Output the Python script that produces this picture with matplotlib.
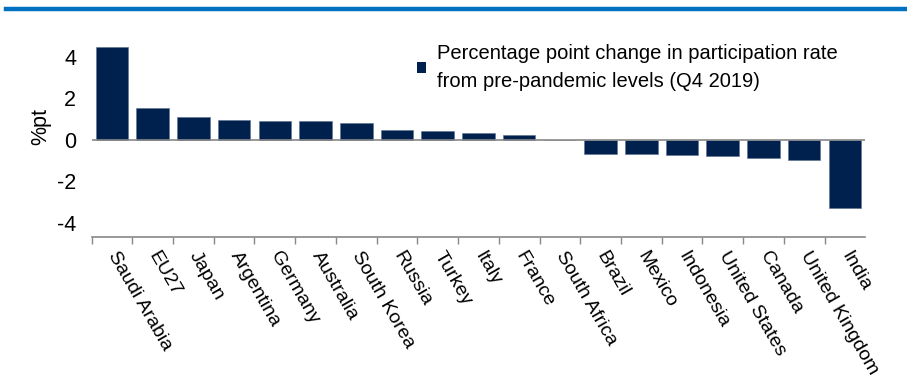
import numpy as np
import matplotlib.pyplot as plt
from matplotlib.patches import Patch
from matplotlib.lines import Line2D

plt.rcParams['font.family'] = ['Liberation Sans', 'DejaVu Sans']

# Données
pays = ['Saudi Arabia', 'EU27', 'Japan', 'Argentina', 'Germany', 'Australia',
        'South Korea', 'Russia', 'Turkey', 'Italy', 'France', 'South Africa',
        'Brazil', 'Mexico', 'Indonesia', 'United States', 'Canada',
        'United Kingdom', 'India']
variation = [4.48, 1.53, 1.12, 0.94, 0.92, 0.91, 0.82, 0.46, 0.42, 0.33, 0.22, 0.0,
             -0.68, -0.70, -0.72, -0.77, -0.88, -0.98, -3.30]
yticks = [-4, -2, 0, 2, 4]
legende = 'Percentage point change in participation rate\nfrom pre-pandemic levels (Q4 2019)'

bleu = '#00214E'
gris = '#888888'

fig = plt.figure(figsize=(9.07, 3.79), dpi=100)
ax = fig.add_axes([0.101, 0.374, 0.853, 0.531])

x = np.arange(len(pays))
ax.bar(x, variation, width=0.8, color=bleu, edgecolor='#5a6f8f', linewidth=0.4)
ax.axhline(0, color=gris, linewidth=1.2)

ax.set_xlim(-0.5, len(pays) - 0.5)
ax.set_ylim(-4.7, 5)
ax.set_yticks(yticks)
ax.set_yticklabels([str(v) for v in yticks], fontsize=15.5)
ax.tick_params(axis='y', length=0, pad=11)
ax.set_ylabel('%pt', fontsize=15.5)
ax.yaxis.set_label_coords(-0.052, 0.55)

ax.set_xticks(x)
ax.set_xticklabels(pays, rotation=-60, ha='left', va='center',
                   rotation_mode='anchor', fontsize=14)
ax.tick_params(axis='x', which='major', length=0, pad=11)
ax.set_xticks(np.arange(-0.5, len(pays) - 0.5, 1), minor=True)
ax.tick_params(axis='x', which='minor', length=5, color=gris, width=1)

for s in ['left', 'right', 'top']:
    ax.spines[s].set_visible(False)
ax.spines['bottom'].set_color(gris)
ax.spines['bottom'].set_linewidth(1.2)

leg = ax.legend([Patch(facecolor=bleu)], [legende], loc='upper left',
                bbox_to_anchor=(0.397, 1.05), frameon=False, fontsize=14.5,
                handlelength=0.45, handleheight=0.45, handletextpad=0.55)
leg.get_texts()[0].set_linespacing(1.6)

# Bandeau bleu en haut
fig.add_artist(Line2D([0.007, 1.0], [0.976, 0.976], color='#0070C0',
                      linewidth=3.2, transform=fig.transFigure))

fig.savefig('out.png', dpi=100)
